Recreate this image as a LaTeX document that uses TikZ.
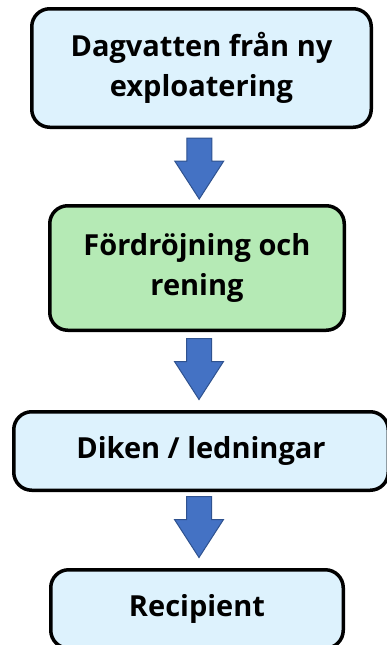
\documentclass[tikz,border=0pt]{standalone}
\usepackage{fontspec}
\setmainfont{Open Sans}
\usetikzlibrary{calc}
\definecolor{boxblue}{HTML}{DDF2FD}
\definecolor{boxgreen}{HTML}{B5EAB5}
\definecolor{arrowfill}{HTML}{4472C4}
\definecolor{arrowline}{HTML}{2F528F}
\begin{document}
\begin{tikzpicture}[x=1pt,y=-1pt,
  stage/.style={draw=black, line width=3.5pt, rounded corners=18pt,
    fill=boxblue, align=center, inner sep=0pt,
    font=\fontsize{29}{40}\selectfont\bfseries},
  flowarrow/.pic={
    \fill[arrowfill, draw=arrowline, line width=1pt, line join=miter]
      (-12.5,-30.5) -- (12.5,-30.5) -- (12.5,-7.5) -- (24.5,-7.5)
      -- (0,30.5) -- (-24.5,-7.5) -- (-12.5,-7.5) -- cycle;
  }]
\useasboundingbox (0,0) rectangle (387,645);

\node[stage, minimum width=339.5pt, minimum height=118.5pt]
  (b1) at (201.5,68) {Dagvatten från ny\\exploatering};
\node[stage, fill=boxgreen, minimum width=294.5pt, minimum height=124.5pt]
  (b2) at (197,268) {Fördröjning och\\rening};
\node[stage, minimum width=374.5pt, minimum height=78.5pt]
  (b3) at (201,451) {Diken / ledningar};
\node[stage, minimum width=292.5pt, minimum height=78.5pt]
  (b4) at (197,609) {Recipient};

% gap midpoints between consecutive stages
\coordinate (g1) at ($(b1.south)!0.5!(b2.north)$);
\coordinate (g2) at ($(b2.south)!0.5!(b3.north)$);
\coordinate (g3) at ($(b3.south)!0.5!(b4.north)$);

% block arrows
\pic at ([yshift=-2pt]g1) {flowarrow};
\pic at ([yshift=2pt]g2) {flowarrow};
\pic at ([yshift=3pt]g3) {flowarrow};
\end{tikzpicture}
\end{document}
